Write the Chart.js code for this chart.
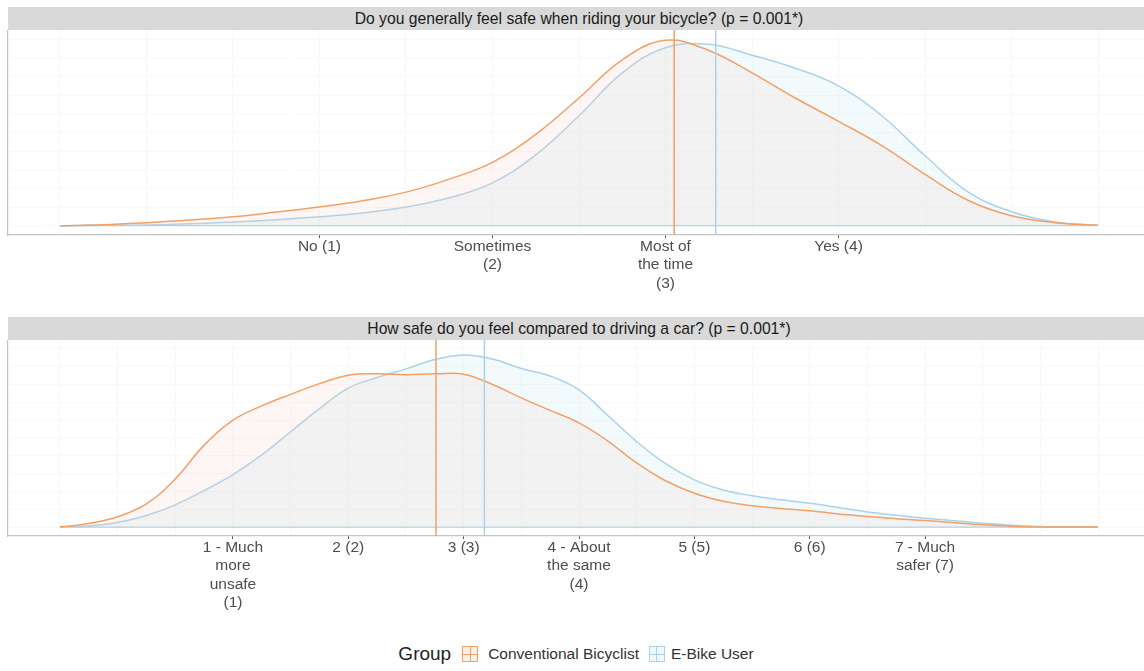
<!DOCTYPE html>
<html>
<head>
<meta charset="utf-8">
<script src="https://cdn.jsdelivr.net/npm/chart.js@4.4.1/dist/chart.umd.min.js"></script>
<style>
  body { margin: 0; background: #fff; width: 1144px; height: 671px; overflow: hidden; position: relative;
         font-family: "Liberation Sans", Arial, sans-serif; }
  .strip { position: absolute; left: 8px; width: 1142px; height: 23px; background: #d9d9d9; color: #1a1a1a;
           font-size: 15.7px; line-height: 23px; text-align: center; }
  canvas { position: absolute; left: 0; }
  #legend { position: absolute; top: 643px; left: 0; width: 1152px; display: flex; justify-content: center;
            align-items: center; color: #333; font-size: 15.5px; }
  #legend .title { font-size: 19px; color: #222; margin-right: 11px; }
  .key { width: 14px; height: 14px; border: 1px solid; position: relative; margin-right: 10px; }
  .key::before, .key::after { content: ""; position: absolute; background: currentColor; }
  .key::before { left: 6.5px; top: 0; width: 1px; height: 14px; }
  .key::after { top: 6.5px; left: 0; height: 1px; width: 14px; }
</style>
</head>
<body>
<div class="strip" style="top:7px">Do you generally feel safe when riding your bicycle? (p = 0.001*)</div>
<canvas id="chart1" width="1150" height="265" style="top:30px"></canvas>
<div class="strip" style="top:317px">How safe do you feel compared to driving a car? (p = 0.001*)</div>
<canvas id="chart2" width="1150" height="276" style="top:340px"></canvas>
<div id="legend">
  <span class="title">Group</span>
  <span class="key" style="color:#F3A065;border-color:#F3A065;background:#fdf1ea"></span>
  <span style="margin-right:10px">Conventional Bicyclist</span>
  <span class="key" style="color:#AAD2EA;border-color:#AAD2EA;background:#f1f8fc;margin-right:6px"></span>
  <span>E-Bike User</span>
</div>
<script>
// Panel 1: "Do you generally feel safe when riding your bicycle?"
const x1 = [-0.5, -0.25, 0, 0.25, 0.5, 0.75, 1, 1.25, 1.5, 1.75, 2, 2.25, 2.5, 2.75, 3, 3.25, 3.5, 3.75, 4, 4.25, 4.5, 4.75, 5, 5.25, 5.5];
const conv1 = [0, 0.005, 0.016, 0.03, 0.048, 0.073, 0.10, 0.134, 0.18, 0.25, 0.34, 0.49, 0.685, 0.89, 0.995, 0.94, 0.82, 0.685, 0.56, 0.43, 0.275, 0.135, 0.053, 0.016, 0.002];
const ebike1 = [0, 0.002, 0.004, 0.01, 0.02, 0.032, 0.048, 0.068, 0.10, 0.15, 0.23, 0.38, 0.59, 0.82, 0.955, 0.973, 0.915, 0.845, 0.75, 0.59, 0.375, 0.18, 0.075, 0.02, 0.002];
const mean1 = { conv: 3.05, ebike: 3.29 };
const ticks1 = [1, 2, 3, 4];
const labels1 = [["No (1)"], ["Sometimes", "(2)"], ["Most of", "the time", "(3)"], ["Yes (4)"]];

// Panel 2: "How safe do you feel compared to driving a car?"
const x2 = [-0.5, -0.25, 0, 0.25, 0.5, 0.75, 1, 1.25, 1.5, 1.75, 2, 2.25, 2.5, 2.75, 3, 3.25, 3.5, 3.75, 4, 4.25, 4.5, 4.75, 5, 5.25, 5.5, 5.75, 6, 6.25, 6.5, 6.75, 7, 7.25, 7.5, 7.75, 8, 8.25, 8.5];
const conv2 = [0, 0.02, 0.058, 0.13, 0.27, 0.46, 0.6, 0.68, 0.745, 0.805, 0.852, 0.86, 0.855, 0.86, 0.858, 0.80, 0.725, 0.655, 0.585, 0.483, 0.36, 0.26, 0.19, 0.145, 0.12, 0.105, 0.092, 0.074, 0.06, 0.047, 0.037, 0.025, 0.013, 0.005, 0.001, 0, 0];
const ebike2 = [0, 0.006, 0.026, 0.065, 0.125, 0.205, 0.295, 0.405, 0.535, 0.665, 0.78, 0.84, 0.888, 0.94, 0.966, 0.943, 0.89, 0.848, 0.77, 0.626, 0.48, 0.356, 0.265, 0.208, 0.176, 0.153, 0.134, 0.11, 0.085, 0.067, 0.05, 0.036, 0.022, 0.011, 0.004, 0.001, 0];
const mean2 = { conv: 2.76, ebike: 3.18 };
const ticks2 = [1, 2, 3, 4, 5, 6, 7];
const labels2 = [["1 - Much", "more", "unsafe", "(1)"], ["2 (2)"], ["3 (3)"], ["4 - About", "the same", "(4)"], ["5 (5)"], ["6 (6)"], ["7 - Much", "safer (7)"]];

const colorConv = "#F3A065";
const colorEbike = "#AAD2EA";
const fillConv = "rgba(242,200,188,0.17)";
const fillEbike = "rgba(192,226,238,0.19)";
const yGrid = [0, 0.1, 0.2, 0.3, 0.4, 0.5, 0.6, 0.7, 0.8, 0.9, 1.0];

function puntos(xs, ys) {
  return xs.map((x, i) => ({ x: x, y: ys[i] }));
}

function crearPanel(id, xs, conv, ebike, medias, tickVals, tickLabels, axisHeight) {
  const xMin = xs[0], xMax = xs[xs.length - 1];
  const pad = (xMax - xMin) * 0.05;
  const grid = [];
  for (let v = xMin; v <= xMax + 1e-9; v += 0.5) grid.push(v);

  const linea = (data, color, extra) => Object.assign({
    data: data, borderColor: color, borderWidth: 1.5, pointRadius: 0, fill: false
  }, extra || {});

  const config = {
    type: "line",
    data: {
      datasets: [
        linea([{ x: medias.conv, y: -0.05 }, { x: medias.conv, y: 1.05 }], colorConv),
        linea([{ x: medias.ebike, y: -0.05 }, { x: medias.ebike, y: 1.05 }], colorEbike),
        linea(puntos(xs, conv), colorConv, { fill: "origin", backgroundColor: fillConv, tension: 0.4 }),
        linea(puntos(xs, ebike), colorEbike, { fill: "origin", backgroundColor: fillEbike, tension: 0.4 }),
        linea([{ x: xMin, y: 0 }, { x: xMax, y: 0 }], colorEbike, { borderWidth: 1.2 })
      ]
    },
    options: {
      responsive: false,
      animation: false,
      layout: { padding: { left: 8, right: 0, top: 0, bottom: 0 } },
      plugins: { legend: { display: false }, tooltip: { enabled: false } },
      scales: {
        x: {
          type: "linear",
          min: xMin - pad,
          max: xMax + pad,
          afterBuildTicks: (scale) => { scale.ticks = grid.map(v => ({ value: v })); },
          afterFit: (scale) => { scale.height = axisHeight; },
          ticks: {
            autoSkip: false, maxRotation: 0, padding: 0, color: "#4d4d4d",
            font: { family: "'Liberation Sans', Arial, sans-serif", size: 15.5, lineHeight: 1.17 },
            callback: (value) => {
              const i = tickVals.indexOf(value);
              return i >= 0 ? tickLabels[i] : "";
            }
          },
          grid: {
            color: "#f8f8f8", lineWidth: 1, tickLength: 3,
            tickColor: (ctx) => tickVals.indexOf(ctx.tick.value) >= 0 ? "#555" : "rgba(0,0,0,0)"
          },
          border: { color: "#c4c4c4", width: 1.2 }
        },
        y: {
          min: -0.05,
          max: 1.05,
          afterBuildTicks: (scale) => { scale.ticks = yGrid.map(v => ({ value: v })); },
          afterFit: (scale) => { scale.width = 0; },
          ticks: { display: false },
          grid: { color: "#f9f9f9", drawTicks: false },
          border: { color: "#c4c4c4", width: 1.2 }
        }
      }
    }
  };
  new Chart(document.getElementById(id), config);
}

crearPanel("chart1", x1, conv1, ebike1, mean1, ticks1, labels1, 60);
crearPanel("chart2", x2, conv2, ebike2, mean2, ticks2, labels2, 80);
</script>
</body>
</html>
